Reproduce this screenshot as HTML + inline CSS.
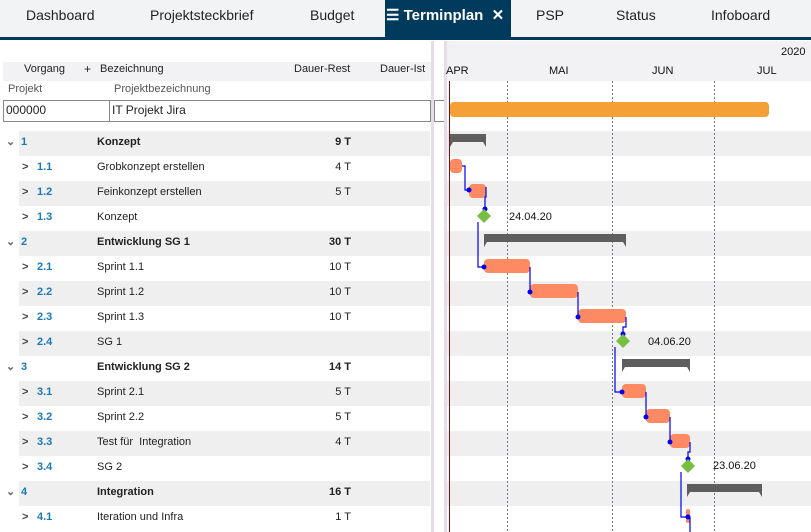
<!DOCTYPE html>
<html><head><meta charset="utf-8"><style>
*{margin:0;padding:0;box-sizing:border-box}
body{width:811px;height:532px;overflow:hidden;background:#fff;font-family:"Liberation Sans",sans-serif;position:relative;color:#222}
.a{position:absolute;white-space:nowrap}
.tab{position:absolute;top:0;height:38px;line-height:31px;font-size:14px;color:#222}
.r{position:absolute;left:0;width:430px;height:25px;font-size:11px;line-height:23px}
.g{background:#efefef}
.n{position:absolute;color:#1a7ab5;font-weight:bold}
.t{position:absolute;left:97px}
.d{position:absolute;right:79px}
.c{position:absolute;color:#666;font-size:11px;font-weight:bold}
</style></head><body>
<div class="a" style="left:0;top:0;width:811px;height:38px;background:#f2f3f5"></div>
<div class="a" style="left:0;top:37px;width:811px;height:3px;background:#003a5c"></div>
<div class="a" style="left:385px;top:0;width:126px;height:38px;background:#003a5c"></div>
<div class="tab" style="left:26px">Dashboard</div>
<div class="tab" style="left:150px">Projektsteckbrief</div>
<div class="tab" style="left:310px">Budget</div>
<div class="tab" style="left:386px;color:#fff;font-weight:bold;font-size:15px">&#9776; Terminplan &nbsp;✕</div>
<div class="tab" style="left:536px">PSP</div>
<div class="tab" style="left:616px">Status</div>
<div class="tab" style="left:711px">Infoboard</div>

<div class="a" style="left:3px;top:62px;width:428px;height:19px;background:#f2f2f4"></div>
<div class="a" style="left:446px;top:41px;width:365px;height:40px;background:#f2f2f4"></div>
<div class="a" style="left:24px;top:63px;font-size:11px">Vorgang</div>
<div class="a" style="left:84px;top:62px;font-size:12px">+</div>
<div class="a" style="left:100px;top:63px;font-size:11px">Bezeichnung</div>
<div class="a" style="left:294px;top:63px;font-size:11px">Dauer-Rest</div>
<div class="a" style="left:380px;top:63px;font-size:11px">Dauer-Ist</div>
<div class="a" style="left:8px;top:83px;font-size:11px;color:#555">Projekt</div>
<div class="a" style="left:114px;top:83px;font-size:11px;color:#555">Projektbezeichnung</div>
<div class="a" style="left:3px;top:100px;width:428px;height:22px;border:1px solid #888"></div>
<div class="a" style="left:109px;top:100px;width:1px;height:22px;background:#888"></div>
<div class="a" style="left:434px;top:100px;width:12px;height:22px;border:1px solid #888;border-right:none"></div>
<div class="a" style="left:6px;top:103px;font-size:12px">000000</div>
<div class="a" style="left:112px;top:103px;font-size:12px">IT Projekt Jira</div>

<div style="position:absolute;left:0;top:131px">
<div class="r" style="top:0"><div class="a g" style="left:19px;width:411px;height:25px"></div><span class="c" style="left:6px">&#8964;</span><span class="n" style="left:21px">1</span><b class="t">Konzept</b><b class="d">9 T</b></div>
<div class="r" style="top:25px"><span class="c" style="left:22px;color:#444">&gt;</span><span class="n" style="left:37px">1.1</span><span class="t">Grobkonzept erstellen</span><span class="d">4 T</span></div>
<div class="r" style="top:50px"><div class="a g" style="left:19px;width:411px;height:25px"></div><span class="c" style="left:22px;color:#444">&gt;</span><span class="n" style="left:37px">1.2</span><span class="t">Feinkonzept erstellen</span><span class="d">5 T</span></div>
<div class="r" style="top:75px"><span class="c" style="left:22px;color:#444">&gt;</span><span class="n" style="left:37px">1.3</span><span class="t">Konzept</span></div>
<div class="r" style="top:100px"><div class="a g" style="left:19px;width:411px;height:25px"></div><span class="c" style="left:6px">&#8964;</span><span class="n" style="left:21px">2</span><b class="t">Entwicklung SG 1</b><b class="d">30 T</b></div>
<div class="r" style="top:125px"><span class="c" style="left:22px;color:#444">&gt;</span><span class="n" style="left:37px">2.1</span><span class="t">Sprint 1.1</span><span class="d">10 T</span></div>
<div class="r" style="top:150px"><div class="a g" style="left:19px;width:411px;height:25px"></div><span class="c" style="left:22px;color:#444">&gt;</span><span class="n" style="left:37px">2.2</span><span class="t">Sprint 1.2</span><span class="d">10 T</span></div>
<div class="r" style="top:175px"><span class="c" style="left:22px;color:#444">&gt;</span><span class="n" style="left:37px">2.3</span><span class="t">Sprint 1.3</span><span class="d">10 T</span></div>
<div class="r" style="top:200px"><div class="a g" style="left:19px;width:411px;height:25px"></div><span class="c" style="left:22px;color:#444">&gt;</span><span class="n" style="left:37px">2.4</span><span class="t">SG 1</span></div>
<div class="r" style="top:225px"><span class="c" style="left:6px">&#8964;</span><span class="n" style="left:21px">3</span><b class="t">Entwicklung SG 2</b><b class="d">14 T</b></div>
<div class="r" style="top:250px"><div class="a g" style="left:19px;width:411px;height:25px"></div><span class="c" style="left:22px;color:#444">&gt;</span><span class="n" style="left:37px">3.1</span><span class="t">Sprint 2.1</span><span class="d">5 T</span></div>
<div class="r" style="top:275px"><span class="c" style="left:22px;color:#444">&gt;</span><span class="n" style="left:37px">3.2</span><span class="t">Sprint 2.2</span><span class="d">5 T</span></div>
<div class="r" style="top:300px"><div class="a g" style="left:19px;width:411px;height:25px"></div><span class="c" style="left:22px;color:#444">&gt;</span><span class="n" style="left:37px">3.3</span><span class="t">Test für &nbsp;Integration</span><span class="d">4 T</span></div>
<div class="r" style="top:325px"><span class="c" style="left:22px;color:#444">&gt;</span><span class="n" style="left:37px">3.4</span><span class="t">SG 2</span></div>
<div class="r" style="top:350px"><div class="a g" style="left:19px;width:411px;height:25px"></div><span class="c" style="left:6px">&#8964;</span><span class="n" style="left:21px">4</span><b class="t">Integration</b><b class="d">16 T</b></div>
<div class="r" style="top:375px"><span class="c" style="left:22px;color:#444">&gt;</span><span class="n" style="left:37px">4.1</span><span class="t">Iteration und Infra</span><span class="d">1 T</span></div>
</div>

<div class="a" style="left:431px;top:41px;width:3px;height:491px;background:#e4dde6"></div>
<div class="a" style="left:444px;top:41px;width:3px;height:491px;background:#e4dde6"></div>

<svg class="a" style="left:0;top:0" width="811" height="532" font-family="Liberation Sans" font-size="11">
<text x="781" y="55" fill="#111">2020</text>
<text x="446" y="74" fill="#111">APR</text><text x="549" y="74" fill="#111">MAI</text><text x="652" y="74" fill="#111">JUN</text><text x="757" y="74" fill="#111">JUL</text>
<g fill="#efefef">
<rect x="447" y="131" width="364" height="25"/><rect x="447" y="181" width="364" height="25"/><rect x="447" y="231" width="364" height="25"/><rect x="447" y="281" width="364" height="25"/><rect x="447" y="331" width="364" height="25"/><rect x="447" y="381" width="364" height="25"/><rect x="447" y="431" width="364" height="25"/><rect x="447" y="481" width="364" height="25"/>
</g>
<g stroke="#6a7890" stroke-dasharray="2,2" stroke-width="1"><line x1="507.5" y1="81" x2="507.5" y2="532"/><line x1="612.5" y1="81" x2="612.5" y2="532"/><line x1="714.5" y1="81" x2="714.5" y2="532"/></g>
<line x1="449.5" y1="81" x2="449.5" y2="532" stroke="#7a1010" stroke-width="1"/>
<rect x="450" y="102" width="319" height="15" rx="4" fill="#f4a036"/>
<g fill="#5e5e5e">
<path d="M450 134h36v13l-3-5h-30l-3 5z"/><path d="M484 234h142v13l-3-5h-136l-3 5z"/><path d="M622 359h68v13l-3-5h-62l-3 5z"/><path d="M687 484h75v13l-3-5h-69l-3 5z"/>
</g>
<g fill="#fd8a63">
<rect x="450" y="159" width="12" height="14" rx="4"/><rect x="469" y="184" width="17" height="14" rx="4"/><rect x="484" y="259" width="46" height="14" rx="4"/><rect x="530" y="284" width="48" height="14" rx="4"/><rect x="578" y="309" width="48" height="14" rx="4"/><rect x="622" y="384" width="24" height="14" rx="4"/><rect x="646" y="409" width="24" height="14" rx="4"/><rect x="670" y="434" width="20" height="14" rx="4"/><rect x="686" y="509" width="4" height="14" rx="2"/>
</g>
<g stroke="#0000ee" fill="none" stroke-width="1.2">
<path d="M462 166h3v24h4"/><path d="M486 187v10h-1v19"/><path d="M478 222v45h6"/><path d="M530 267v25"/><path d="M578 292v25"/><path d="M626 317v10h-3v14"/><path d="M615 347v45h7"/><path d="M646 392v25"/><path d="M670 417v25"/><path d="M690 442v10h-2v14"/><path d="M681 472v45h6"/><path d="M690 517v15"/>
</g>
<g fill="#0000ee"><circle cx="469" cy="190" r="2.5"/><circle cx="485" cy="209" r="2.5"/><circle cx="484" cy="267" r="2.5"/><circle cx="530" cy="292" r="2.5"/><circle cx="578" cy="317" r="2.5"/><circle cx="623" cy="334" r="2.5"/><circle cx="622" cy="392" r="2.5"/><circle cx="646" cy="417" r="2.5"/><circle cx="670" cy="442" r="2.5"/><circle cx="688" cy="459" r="2.5"/><circle cx="688" cy="517" r="2.5"/></g>
<g fill="#76bf42"><path d="M484 209l7 7-7 7-7-7z"/><path d="M623 334l7 7-7 7-7-7z"/><path d="M688 459l7 7-7 7-7-7z"/></g>
<text x="509" y="220" fill="#111">24.04.20</text><text x="648" y="345" fill="#111">04.06.20</text><text x="713" y="469" fill="#111">23.06.20</text>
</svg>
</body></html>
